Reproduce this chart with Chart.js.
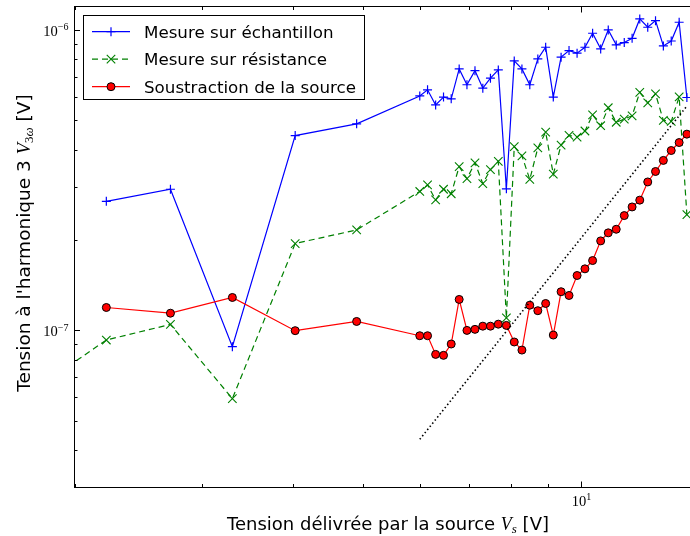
<!DOCTYPE html>
<html>
<head>
<meta charset="utf-8">
<script src="https://cdn.jsdelivr.net/npm/chart.js@4.4.1/dist/chart.umd.min.js"></script>
<style>
  html, body { margin: 0; padding: 0; background: #fff; overflow: hidden; }
  #chart { display: block; }
</style>
</head>
<body>
<canvas id="chart" width="690" height="536"></canvas>
<script>
// Tension délivrée par la source (V) - shared by the three measurements
const sourceVoltage = [1.81, 2.21, 2.71, 3.30, 4.03, 4.90,
    5.99, 6.14, 6.30, 6.46, 6.62, 6.79, 6.96, 7.14, 7.32, 7.50, 7.69, 7.89,
    8.09, 8.29, 8.50, 8.72, 8.94, 9.16, 9.39, 9.63, 9.88, 10.13, 10.38, 10.65,
    10.91, 11.19, 11.48, 11.77, 12.06, 12.37, 12.68, 13.00, 13.33, 13.67, 14.01];

const tensionEchantillon = [null, 2.69e-7, 2.95e-7, 8.83e-8, 4.45e-7, 4.87e-7,
    6.03e-7, 6.32e-7, 5.63e-7, 5.98e-7, 5.90e-7, 7.42e-7, 6.57e-7, 7.32e-7, 6.40e-7, 6.91e-7, 7.36e-7, 2.96e-7,
    7.89e-7, 7.42e-7, 6.57e-7, 8.01e-7, 8.76e-7, 5.98e-7, 8.12e-7, 8.54e-7, 8.37e-7, 8.76e-7, 9.75e-7, 8.65e-7,
    1.00e-6, 8.92e-7, 9.08e-7, 9.38e-7, 1.088e-6, 1.021e-6, 1.074e-6, 8.85e-7, 9.19e-7, 1.061e-6, 5.96e-7];

const tensionResistance = [6.67e-8, 9.29e-8, 1.047e-7, 5.93e-8, 1.946e-7, 2.16e-7,
    2.90e-7, 3.05e-7, 2.72e-7, 2.95e-7, 2.85e-7, 3.51e-7, 3.20e-7, 3.61e-7, 3.08e-7, 3.43e-7, 3.65e-7, 1.10e-7,
    4.09e-7, 3.81e-7, 3.18e-7, 4.05e-7, 4.57e-7, 3.31e-7, 4.14e-7, 4.46e-7, 4.40e-7, 4.61e-7, 5.22e-7, 4.80e-7,
    5.51e-7, 4.93e-7, 5.05e-7, 5.18e-7, 6.20e-7, 5.72e-7, 6.13e-7, 5.00e-7, 4.96e-7, 5.99e-7, 2.43e-7];

const tensionSoustraction = [null, 1.192e-7, 1.141e-7, 1.287e-7, 9.98e-8, 1.071e-7,
    9.60e-8, 9.60e-8, 8.32e-8, 8.26e-8, 9.01e-8, 1.268e-7, 1.000e-7, 1.008e-7, 1.033e-7, 1.033e-7, 1.049e-7, 1.039e-7,
    9.15e-8, 8.60e-8, 1.213e-7, 1.163e-7, 1.229e-7, 9.65e-8, 1.345e-7, 1.307e-7, 1.523e-7, 1.603e-7, 1.708e-7, 1.986e-7,
    2.112e-7, 2.171e-7, 2.411e-7, 2.576e-7, 2.714e-7, 3.12e-7, 3.38e-7, 3.68e-7, 3.97e-7, 4.22e-7, 4.50e-7];

// dotted V^3 guide line (two ends)
const penteVoltage = [5.99, 14.01];
const penteTension = [4.34e-8, 5.58e-7];

const seriesLabels = ['Mesure sur échantillon', 'Mesure sur résistance', 'Soustraction de la source'];

// axes
const xMin = 1.994, xMax = 14.15;
const yMin = 3.02e-8, yMax = 1.197e-6;
const xMajorTicks = [10];
const xTickExponents = ['1'];
const yMajorTicks = [1e-7, 1e-6];
const yTickExponents = ['\u22127', '\u22126'];

const SANS = '"DejaVu Sans", "Bitstream Vera Sans", sans-serif';
const SERIF = '"Liberation Serif", "DejaVu Serif", serif';

function pairs(xs, ys) {
    return xs.map((v, i) => ({ x: v, y: ys[i] }));
}

function drawRuns(ctx, runs, x, y, align) {
    let total = 0;
    runs.forEach(r => { ctx.font = r.font; r.w = ctx.measureText(r.text).width; total += r.w; });
    let cx = align === 'center' ? x - total / 2 : (align === 'right' ? x - total : x);
    runs.forEach(r => {
        ctx.font = r.font;
        ctx.fillText(r.text, cx, y + (r.dy || 0));
        cx += r.w;
    });
}

function minorValues(min, max) {
    const out = [];
    for (let d = Math.floor(Math.log10(min)); d <= Math.ceil(Math.log10(max)); d++) {
        for (let m = 1; m <= 9; m++) {
            const v = m * Math.pow(10, d);
            if (v >= min && v <= max) out.push({ v: v, major: m === 1 });
        }
    }
    return out;
}

// matplotlib-like frame: spines, inward ticks, math tick labels, titles, legend
const framePlugin = {
    id: 'frame',
    afterDraw(chart) {
        const ctx = chart.ctx;
        const a = chart.chartArea;
        const xs = chart.scales.x, ys = chart.scales.y;
        const L = a.left + 0.5, B = a.bottom, T = a.top;
        ctx.save();
        ctx.strokeStyle = '#000';
        ctx.lineWidth = 1;
        ctx.beginPath();
        ctx.moveTo(L, B); ctx.lineTo(L, T);
        ctx.moveTo(a.left, T); ctx.lineTo(a.right, T);
        ctx.moveTo(a.left, B); ctx.lineTo(a.right, B);
        ctx.stroke();

        // ticks
        ctx.beginPath();
        minorValues(xMin, xMax).forEach(t => {
            const px = Math.round(xs.getPixelForValue(t.v)) + 0.5;
            const len = t.major ? 6 : 3.5;
            ctx.moveTo(px, B); ctx.lineTo(px, B - len);
            ctx.moveTo(px, T); ctx.lineTo(px, T + len);
        });
        minorValues(yMin, yMax).forEach(t => {
            const py = Math.round(ys.getPixelForValue(t.v)) + 0.5;
            const len = t.major ? 6 : 3.5;
            ctx.moveTo(a.left, py); ctx.lineTo(a.left + len, py);
        });
        ctx.stroke();

        // tick labels
        ctx.fillStyle = '#000';
        ctx.textBaseline = 'alphabetic';
        ctx.textAlign = 'left';
        yMajorTicks.forEach((v, i) => {
            const py = ys.getPixelForValue(v);
            drawRuns(ctx, [
                { text: '10', font: '14.5px ' + SERIF },
                { text: yTickExponents[i], font: '10px ' + SERIF, dy: -5.5 }
            ], a.left - 5.5, py + 6, 'right');
        });
        xMajorTicks.forEach((v, i) => {
            const px = xs.getPixelForValue(v);
            drawRuns(ctx, [
                { text: '10', font: '14.5px ' + SERIF },
                { text: xTickExponents[i], font: '10px ' + SERIF, dy: -5.5 }
            ], px + 0.5, 505.5, 'center');
        });

        // axis titles
        drawRuns(ctx, [
            { text: 'Tension délivrée par la source ', font: '18px ' + SANS },
            { text: 'V', font: 'italic 18px ' + SERIF },
            { text: 's', font: 'italic 13px ' + SERIF, dy: 3 },
            { text: ' [V]', font: '18px ' + SANS }
        ], 388, 529.5, 'center');

        ctx.save();
        ctx.translate(29.5, 243);
        ctx.rotate(-Math.PI / 2);
        drawRuns(ctx, [
            { text: 'Tension à l\'harmonique 3 ', font: '18.5px ' + SANS },
            { text: 'V', font: 'italic 18.5px ' + SERIF },
            { text: '3', font: '13px ' + SERIF, dy: 3 },
            { text: '\u03c9', font: 'italic 13px ' + SERIF, dy: 3 },
            { text: ' [V]', font: '18.5px ' + SANS }
        ], 0, 0, 'center');
        ctx.restore();

        // legend
        const lx = 83.5, ly = 15.5, lw = 281, lh = 84;
        ctx.fillStyle = '#fff';
        ctx.fillRect(lx, ly, lw, lh);
        ctx.strokeStyle = '#000';
        ctx.lineWidth = 1;
        ctx.strokeRect(lx, ly, lw, lh);
        const rows = [31.7, 59.2, 86.7];
        chart.data.datasets.slice(0, 3).forEach((ds, i) => {
            const y = rows[i];
            ctx.save();
            ctx.strokeStyle = ds.borderColor;
            ctx.lineWidth = ds.borderWidth;
            ctx.setLineDash(ds.borderDash || []);
            ctx.beginPath();
            ctx.moveTo(92, y); ctx.lineTo(130, y);
            ctx.stroke();
            ctx.setLineDash([]);
            const mx = 111;
            ctx.lineWidth = ds.pointBorderWidth;
            ctx.strokeStyle = ds.pointBorderColor;
            ctx.beginPath();
            if (ds.pointStyle === 'cross') {
                const r = ds.pointRadius;
                ctx.moveTo(mx - r, y); ctx.lineTo(mx + r, y);
                ctx.moveTo(mx, y - r); ctx.lineTo(mx, y + r);
                ctx.stroke();
            } else if (ds.pointStyle === 'crossRot') {
                const r = ds.pointRadius * Math.SQRT1_2;
                ctx.moveTo(mx - r, y - r); ctx.lineTo(mx + r, y + r);
                ctx.moveTo(mx - r, y + r); ctx.lineTo(mx + r, y - r);
                ctx.stroke();
            } else {
                ctx.fillStyle = ds.pointBackgroundColor;
                ctx.arc(mx, y, ds.pointRadius, 0, Math.PI * 2);
                ctx.fill();
                ctx.stroke();
            }
            ctx.restore();
            ctx.fillStyle = '#000';
            ctx.font = '16.7px ' + SANS;
            ctx.fillText(seriesLabels[i], 144, y + 6);
        });
        ctx.restore();
    }
};

new Chart(document.getElementById('chart').getContext('2d'), {
    type: 'line',
    data: {
        datasets: [
            {
                label: seriesLabels[0],
                data: pairs(sourceVoltage, tensionEchantillon),
                borderColor: '#0000ff',
                borderWidth: 1.2,
                pointStyle: 'cross',
                pointRadius: 4.5,
                pointBorderWidth: 1.2,
                pointBorderColor: '#0000ff',
                order: 4
            },
            {
                label: seriesLabels[1],
                data: pairs(sourceVoltage, tensionResistance),
                borderColor: '#008000',
                borderWidth: 1.2,
                borderDash: [6, 4],
                pointStyle: 'crossRot',
                pointRadius: 6,
                pointBorderWidth: 1.1,
                pointBorderColor: '#008000',
                order: 3
            },
            {
                label: seriesLabels[2],
                data: pairs(sourceVoltage, tensionSoustraction),
                borderColor: '#ff0000',
                borderWidth: 1.2,
                pointStyle: 'circle',
                pointRadius: 4,
                pointBackgroundColor: '#ff0000',
                pointBorderColor: '#000',
                pointBorderWidth: 1,
                order: 2
            },
            {
                label: 'V^3',
                data: pairs(penteVoltage, penteTension),
                borderColor: '#000',
                borderWidth: 1.6,
                borderDash: [1.5, 2.5],
                pointRadius: 0,
                order: 1
            }
        ]
    },
    options: {
        responsive: false,
        animation: false,
        devicePixelRatio: 1,
        layout: { autoPadding: false, padding: { top: 6.5, right: 0, bottom: 0, left: 0 } },
        elements: { line: { tension: 0, fill: false } },
        plugins: {
            legend: { display: false },
            tooltip: { enabled: false }
        },
        scales: {
            x: {
                type: 'logarithmic',
                min: xMin,
                max: xMax,
                grid: { display: false },
                border: { display: false },
                ticks: { display: false },
                afterFit: s => { s.height = 48.5; }
            },
            y: {
                type: 'logarithmic',
                min: yMin,
                max: yMax,
                grid: { display: false },
                border: { display: false },
                ticks: { display: false },
                afterFit: s => { s.width = 74; }
            }
        }
    },
    plugins: [framePlugin]
});
</script>
</body>
</html>
